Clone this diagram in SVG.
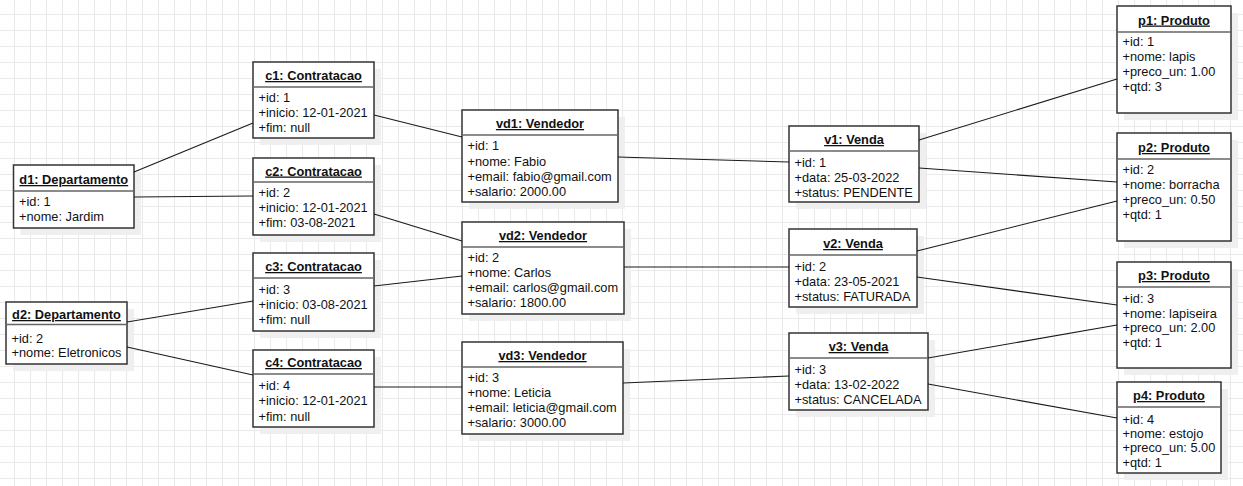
<svg xmlns="http://www.w3.org/2000/svg" width="1243" height="486" viewBox="0 0 1243 486">
<defs>
<pattern id="grid" x="14" y="14" width="16" height="16" patternUnits="userSpaceOnUse">
<path d="M0 0.5H16M0.5 0V16" stroke="#e9e9e9" stroke-width="1" fill="none"/>
</pattern>
<style>
.sh{fill:#efefef;stroke:none}
.box{fill:#fff;stroke:#333;stroke-width:1.5}
.sep{stroke:#666;stroke-width:1.3}
text{font-family:"Liberation Sans",Arial,sans-serif;font-size:12.8px;fill:#111}
.t{font-weight:bold;text-anchor:middle;text-decoration:underline}
.c line{stroke:#1a1a1a;stroke-width:1.1}
</style>
</defs>
<rect width="1243" height="486" fill="#fff"/>
<rect width="1243" height="486" fill="url(#grid)"/>

<g id="d1">
<rect class="sh" x="20.5" y="172" width="120.5" height="63"/>
<rect class="box" x="13.5" y="165" width="120.5" height="63"/>
<line class="sep" x1="13.5" y1="191" x2="134" y2="191"/>
<text class="t" x="73.75" y="184">d1: Departamento</text>
<text x="19" y="206">+id: 1</text>
<text x="19" y="221">+nome: Jardim</text>
</g>
<g id="d2">
<rect class="sh" x="13" y="309" width="121" height="62"/>
<rect class="box" x="6" y="302" width="121" height="62"/>
<line class="sep" x1="6" y1="324.5" x2="127" y2="324.5"/>
<text class="t" x="66.5" y="319">d2: Departamento</text>
<text x="11.5" y="342.5">+id: 2</text>
<text x="11.5" y="357">+nome: Eletronicos</text>
</g>

<g id="c1">
<rect class="sh" x="260" y="69" width="121" height="76"/>
<rect class="box" x="253" y="62" width="121" height="76"/>
<line class="sep" x1="253" y1="87" x2="374" y2="87"/>
<text class="t" x="313.5" y="80">c1: Contratacao</text>
<text x="258.5" y="102">+id: 1</text>
<text x="258.5" y="117">+inicio: 12-01-2021</text>
<text x="258.5" y="132">+fim: null</text>
</g>
<g id="c2">
<rect class="sh" x="260" y="165" width="121" height="77"/>
<rect class="box" x="253" y="158" width="121" height="77"/>
<line class="sep" x1="253" y1="182" x2="374" y2="182"/>
<text class="t" x="313.5" y="175.5">c2: Contratacao</text>
<text x="258.5" y="197">+id: 2</text>
<text x="258.5" y="212">+inicio: 12-01-2021</text>
<text x="258.5" y="227">+fim: 03-08-2021</text>
</g>
<g id="c3">
<rect class="sh" x="260" y="260" width="121" height="78"/>
<rect class="box" x="253" y="253" width="121" height="78"/>
<line class="sep" x1="253" y1="278" x2="374" y2="278"/>
<text class="t" x="313.5" y="271">c3: Contratacao</text>
<text x="258.5" y="294">+id: 3</text>
<text x="258.5" y="309">+inicio: 03-08-2021</text>
<text x="258.5" y="324">+fim: null</text>
</g>
<g id="c4">
<rect class="sh" x="260" y="357" width="121" height="77"/>
<rect class="box" x="253" y="350" width="121" height="77"/>
<line class="sep" x1="253" y1="374" x2="374" y2="374"/>
<text class="t" x="313.5" y="367">c4: Contratacao</text>
<text x="258.5" y="389.5">+id: 4</text>
<text x="258.5" y="405">+inicio: 12-01-2021</text>
<text x="258.5" y="420.5">+fim: null</text>
</g>

<g id="vd1">
<rect class="sh" x="469" y="117" width="156" height="92"/>
<rect class="box" x="462" y="110" width="156" height="92"/>
<line class="sep" x1="462" y1="135" x2="618" y2="135"/>
<text class="t" x="540" y="128">vd1: Vendedor</text>
<text x="467.5" y="150">+id: 1</text>
<text x="467.5" y="165.5">+nome: Fabio</text>
<text x="467.5" y="180.5">+email: fabio@gmail.com</text>
<text x="467.5" y="195.5">+salario: 2000.00</text>
</g>
<g id="vd2">
<rect class="sh" x="469" y="229" width="162" height="92"/>
<rect class="box" x="462" y="222" width="162" height="92"/>
<line class="sep" x1="462" y1="247" x2="624" y2="247"/>
<text class="t" x="543" y="240">vd2: Vendedor</text>
<text x="467.5" y="261.5">+id: 2</text>
<text x="467.5" y="277">+nome: Carlos</text>
<text x="467.5" y="292">+email: carlos@gmail.com</text>
<text x="467.5" y="307">+salario: 1800.00</text>
</g>
<g id="vd3">
<rect class="sh" x="469" y="349" width="161" height="92"/>
<rect class="box" x="462" y="342" width="161" height="92"/>
<line class="sep" x1="462" y1="367" x2="623" y2="367"/>
<text class="t" x="542.5" y="360">vd3: Vendedor</text>
<text x="467.5" y="382">+id: 3</text>
<text x="467.5" y="397">+nome: Leticia</text>
<text x="467.5" y="412">+email: leticia@gmail.com</text>
<text x="467.5" y="427">+salario: 3000.00</text>
</g>

<g id="v1">
<rect class="sh" x="796" y="133" width="130" height="76"/>
<rect class="box" x="789" y="126" width="130" height="76"/>
<line class="sep" x1="789" y1="151" x2="919" y2="151"/>
<text class="t" x="854" y="144">v1: Venda</text>
<text x="794.5" y="166.5">+id: 1</text>
<text x="794.5" y="181.5">+data: 25-03-2022</text>
<text x="794.5" y="196.5">+status: PENDENTE</text>
</g>
<g id="v2">
<rect class="sh" x="796" y="236" width="128" height="78"/>
<rect class="box" x="789" y="229" width="128" height="78"/>
<line class="sep" x1="789" y1="255" x2="917" y2="255"/>
<text class="t" x="853" y="248">v2: Venda</text>
<text x="794.5" y="270.5">+id: 2</text>
<text x="794.5" y="285.5">+data: 23-05-2021</text>
<text x="794.5" y="300.5">+status: FATURADA</text>
</g>
<g id="v3">
<rect class="sh" x="796" y="340" width="139" height="77"/>
<rect class="box" x="789" y="333" width="139" height="77"/>
<line class="sep" x1="789" y1="358" x2="928" y2="358"/>
<text class="t" x="858.5" y="351">v3: Venda</text>
<text x="794.5" y="373.5">+id: 3</text>
<text x="794.5" y="388.5">+data: 13-02-2022</text>
<text x="794.5" y="403.5">+status: CANCELADA</text>
</g>

<g id="p1">
<rect class="sh" x="1124" y="13" width="114" height="107"/>
<rect class="box" x="1117" y="6" width="114" height="107"/>
<line class="sep" x1="1117" y1="32" x2="1231" y2="32"/>
<text class="t" x="1174" y="24.5">p1: Produto</text>
<text x="1122.5" y="46">+id: 1</text>
<text x="1122.5" y="61">+nome: lapis</text>
<text x="1122.5" y="76">+preco_un: 1.00</text>
<text x="1122.5" y="91">+qtd: 3</text>
</g>
<g id="p2">
<rect class="sh" x="1124" y="140" width="114" height="108"/>
<rect class="box" x="1117" y="133" width="114" height="108"/>
<line class="sep" x1="1117" y1="159" x2="1231" y2="159"/>
<text class="t" x="1174" y="152">p2: Produto</text>
<text x="1122.5" y="174">+id: 2</text>
<text x="1122.5" y="189">+nome: borracha</text>
<text x="1122.5" y="204">+preco_un: 0.50</text>
<text x="1122.5" y="218.5">+qtd: 1</text>
</g>
<g id="p3">
<rect class="sh" x="1124" y="269" width="114" height="106"/>
<rect class="box" x="1117" y="262" width="114" height="106"/>
<line class="sep" x1="1117" y1="287" x2="1231" y2="287"/>
<text class="t" x="1174" y="280">p3: Produto</text>
<text x="1122.5" y="302.5">+id: 3</text>
<text x="1122.5" y="317.5">+nome: lapiseira</text>
<text x="1122.5" y="332">+preco_un: 2.00</text>
<text x="1122.5" y="347">+qtd: 1</text>
</g>
<g id="p4">
<rect class="sh" x="1124" y="389" width="104" height="91"/>
<rect class="box" x="1117" y="382" width="104" height="91"/>
<line class="sep" x1="1117" y1="407" x2="1221" y2="407"/>
<text class="t" x="1169" y="400">p4: Produto</text>
<text x="1122.5" y="423.5">+id: 4</text>
<text x="1122.5" y="438">+nome: estojo</text>
<text x="1122.5" y="452">+preco_un: 5.00</text>
<text x="1122.5" y="466.5">+qtd: 1</text>
</g>

<g id="connectors" class="c">
<line x1="134" y1="172" x2="253" y2="123"/>
<line x1="134" y1="197" x2="253" y2="196"/>
<line x1="127" y1="322" x2="253" y2="301"/>
<line x1="127" y1="347" x2="253" y2="375"/>
<line x1="374" y1="115" x2="462" y2="137"/>
<line x1="374" y1="214" x2="462" y2="241"/>
<line x1="374" y1="286" x2="462" y2="276"/>
<line x1="374" y1="387" x2="462" y2="387"/>
<line x1="618" y1="157" x2="789" y2="162"/>
<line x1="624" y1="267" x2="789" y2="267"/>
<line x1="623" y1="383" x2="789" y2="376"/>
<line x1="919" y1="140" x2="1117" y2="79"/>
<line x1="919" y1="168" x2="1117" y2="182"/>
<line x1="917" y1="251" x2="1117" y2="201"/>
<line x1="917" y1="277" x2="1117" y2="305"/>
<line x1="928" y1="358" x2="1117" y2="325"/>
<line x1="928" y1="384" x2="1117" y2="418"/>
</g>
</svg>
